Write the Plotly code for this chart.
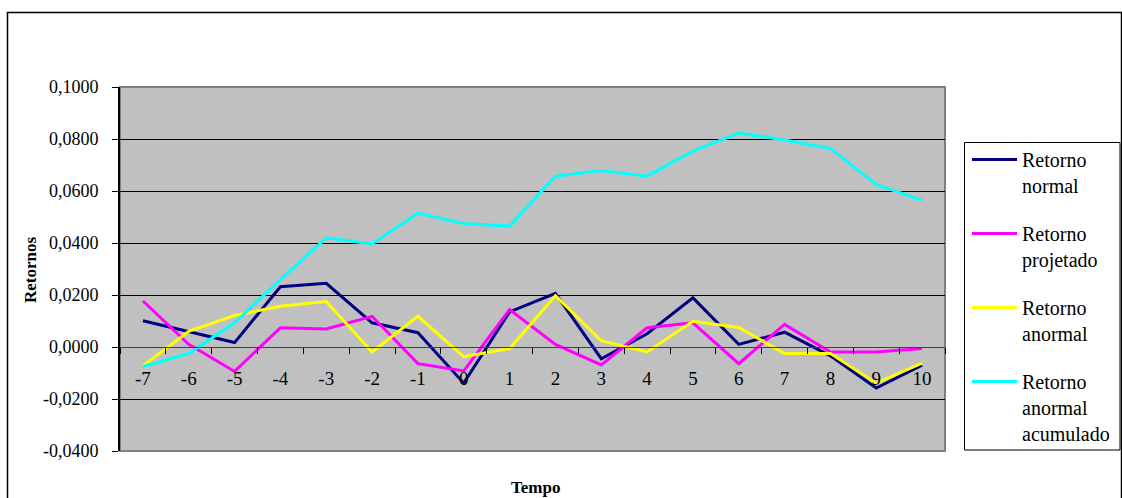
import plotly.graph_objects as go

# Event-window periods
tempo = ["-7", "-6", "-5", "-4", "-3", "-2", "-1", "0", "1", "2",
         "3", "4", "5", "6", "7", "8", "9", "10"]

retorno_normal = [0.0101, 0.0059, 0.0017, 0.0232, 0.0245, 0.0093, 0.0055, -0.0139, 0.0135,
                  0.0206, -0.0045, 0.0051, 0.0189, 0.0010, 0.0057, -0.0034, -0.0158, -0.0070]
retorno_projetado = [0.0177, 0.0010, -0.0094, 0.0074, 0.0069, 0.0118, -0.0064, -0.0092, 0.0144,
                     0.0010, -0.0069, 0.0074, 0.0093, -0.0064, 0.0087, -0.0019, -0.0019, -0.0006]
retorno_anormal = [-0.0073, 0.0060, 0.0121, 0.0157, 0.0175, -0.0019, 0.0118, -0.0037, -0.0006,
                   0.0197, 0.0024, -0.0019, 0.0099, 0.0075, -0.0025, -0.0025, -0.0139, -0.0062]
retorno_acumulado = [-0.0075, -0.0025, 0.0093, 0.0259, 0.0420, 0.0396, 0.0515, 0.0475, 0.0465,
                     0.0657, 0.0679, 0.0657, 0.0753, 0.0823, 0.0796, 0.0764, 0.0625, 0.0564]

y_ticks = [-0.04, -0.02, 0.0, 0.02, 0.04, 0.06, 0.08, 0.10]
y_ticktext = ["-0,0400", "-0,0200", "0,0000", "0,0200", "0,0400", "0,0600", "0,0800", "0,1000"]

series = [
    ("Retorno<br>normal", retorno_normal, "#000080"),
    ("Retorno<br>projetado", retorno_projetado, "#FF00FF"),
    ("Retorno<br>anormal", retorno_anormal, "#FFFF00"),
    ("Retorno<br>anormal<br>acumulado", retorno_acumulado, "#00FFFF"),
]

W, H = 1122, 498
L, R, T, B = 120, 945, 87, 451
Y_MIN, Y_MAX = -0.04, 0.10
FONT = "Liberation Serif"

fig = go.Figure()
for i, (name, vals, color) in enumerate(series):
    fig.add_trace(go.Scatter(
        x=tempo, y=vals, name=name, mode="lines",
        line=dict(color=color, width=3),
        legendgroup=f"g{i}",
    ))

pw, ph = R - L, B - T


def px_x(x):
    return (x - L) / pw


def px_y(y):
    return (B - y) / ph


zero_pos = (0 - Y_MIN) / (Y_MAX - Y_MIN)

fig.update_layout(
    width=W, height=H,
    margin=dict(l=L, r=W - R, t=T, b=H - B, autoexpand=False),
    paper_bgcolor="white",
    plot_bgcolor="#C0C0C0",
    font=dict(family=FONT, size=18, color="black"),
    showlegend=True,
    legend=dict(
        x=px_x(967), y=px_y(140), xanchor="left", yanchor="top",
        borderwidth=0, bgcolor="rgba(0,0,0,0)",
        font=dict(family=FONT, size=20, color="black"),
        tracegroupgap=19, valign="top", itemwidth=45,
    ),
    xaxis=dict(
        type="category", range=[-0.5, len(tempo) - 0.5],
        anchor="free", position=zero_pos,
        showline=True, linecolor="#404040", linewidth=1,
        ticks="outside", ticklen=6, tickcolor="black", tickson="boundaries",
        showgrid=False, zeroline=False,
        tickfont=dict(family=FONT, size=19, color="black"),
        ticklabelstandoff=14,
    ),
    yaxis=dict(
        range=[Y_MIN, Y_MAX], tickvals=y_ticks, ticktext=y_ticktext,
        showgrid=True, gridcolor="black", gridwidth=1,
        zeroline=False,
        showline=True, linecolor="black", linewidth=2,
        ticks="outside", ticklen=6, tickcolor="black",
        tickfont=dict(family=FONT, size=18, color="black"),
        ticklabelstandoff=10,
    ),
    shapes=[
        # plot-area frame
        dict(type="rect", xref="paper", yref="paper", x0=0, x1=1, y0=0, y1=1,
             line=dict(color="#808080", width=2), layer="below"),
        # outer chart frame
        dict(type="rect", xref="paper", yref="paper",
             x0=px_x(7.5), x1=px_x(1121.5), y0=px_y(510), y1=px_y(12.5),
             line=dict(color="black", width=1.5)),
        # legend frame
        dict(type="rect", xref="paper", yref="paper",
             x0=px_x(964.5), x1=px_x(1120), y0=px_y(450), y1=px_y(142.5),
             line=dict(color="black", width=1), fillcolor="white", layer="below"),
    ],
    annotations=[
        dict(text="<b>Retornos</b>", textangle=-90, xref="paper", yref="paper",
             x=px_x(30), y=px_y(270), xanchor="center", yanchor="middle",
             showarrow=False, font=dict(family=FONT, size=17, color="black")),
        dict(text="<b>Tempo</b>", xref="paper", yref="paper",
             x=px_x(535), y=px_y(487), xanchor="center", yanchor="middle",
             showarrow=False, font=dict(family=FONT, size=17, color="black")),
    ],
)

fig.write_html("out.html")
